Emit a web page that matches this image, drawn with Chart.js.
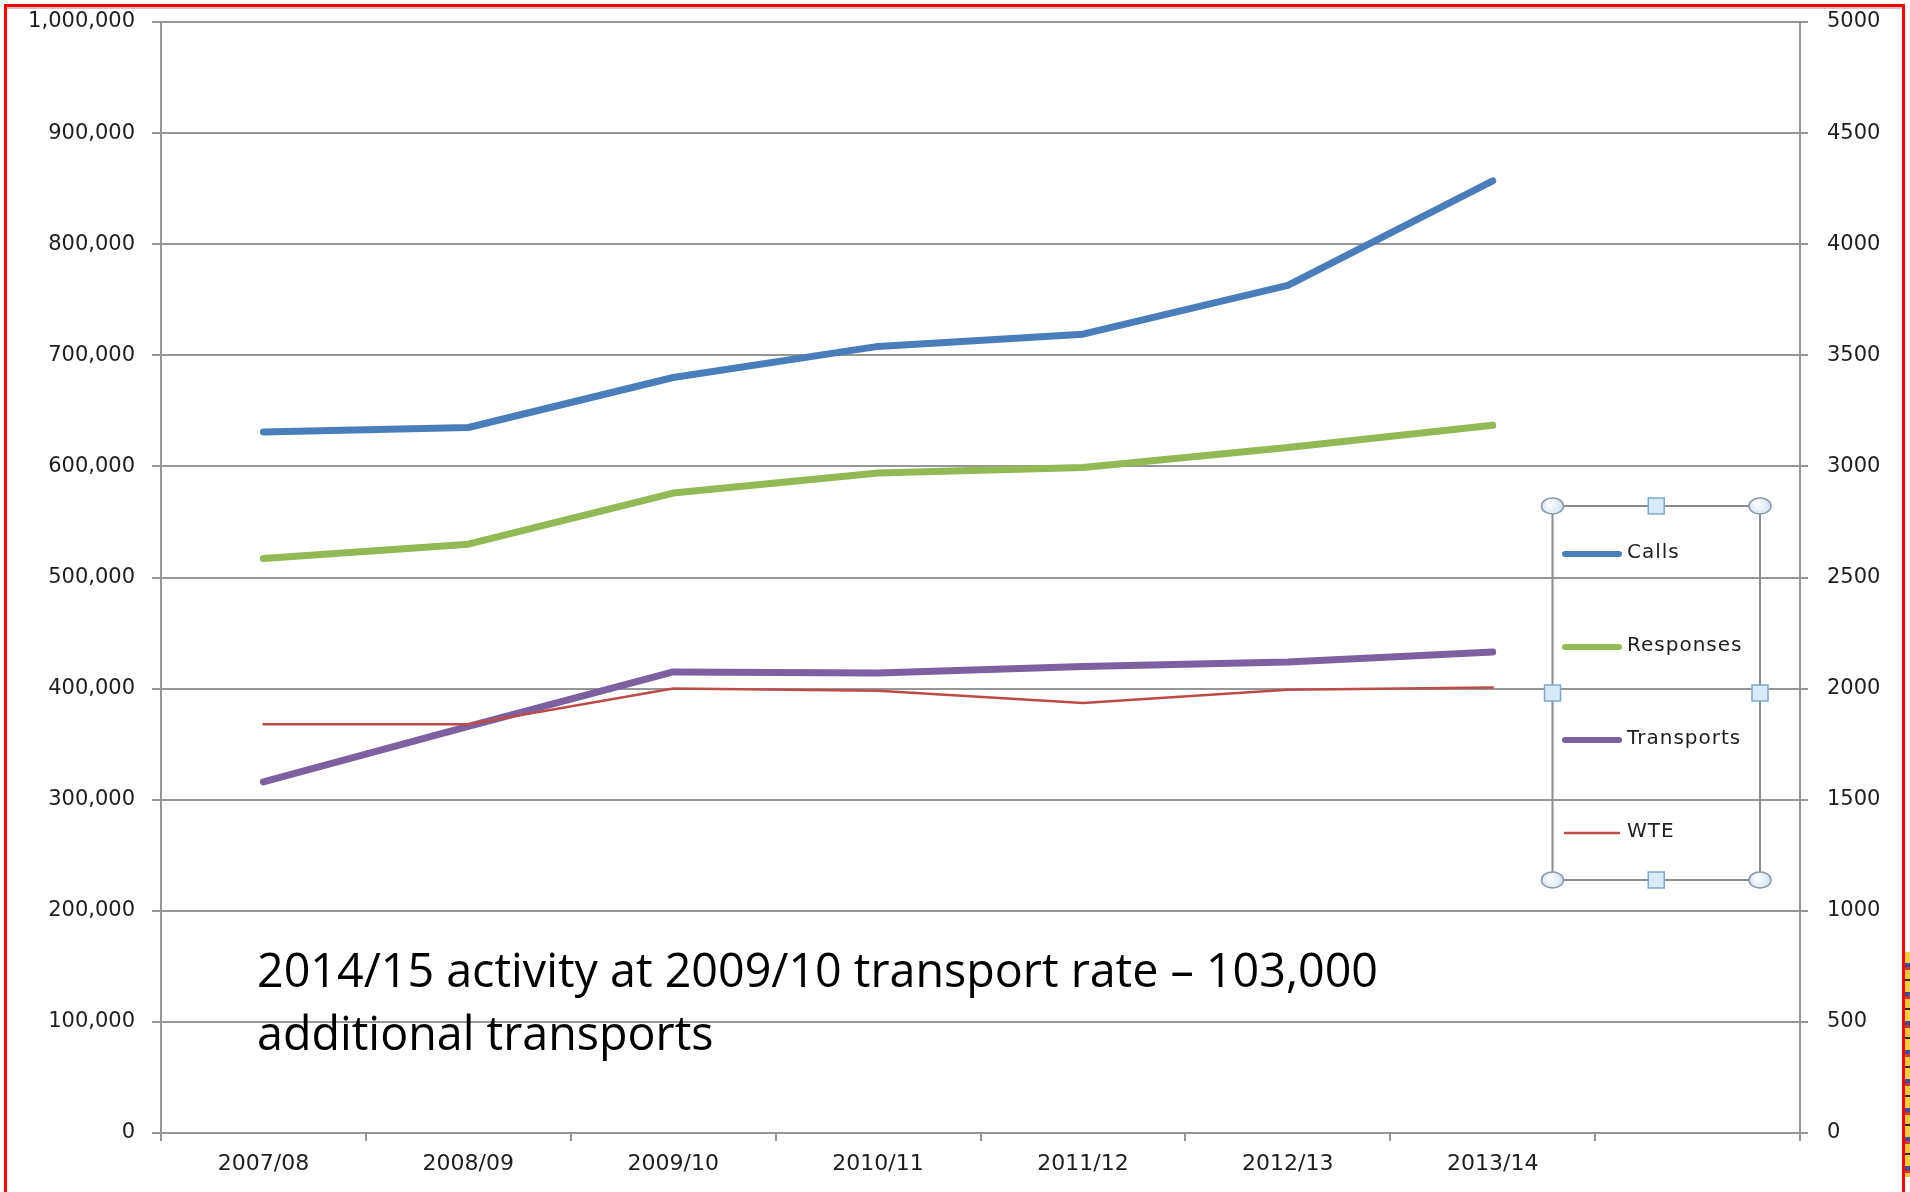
<!DOCTYPE html>
<html>
<head>
<meta charset="utf-8">
<script src="https://cdn.jsdelivr.net/npm/chart.js@4.4.1/dist/chart.umd.min.js"></script>
<style>
  html, body { margin:0; padding:0; background:#ffffff; overflow:hidden; width:1910px; height:1192px; }
  #wrap { position:absolute; left:0; top:0; width:1910px; height:1192px; }
  #topline { position:absolute; left:7px; top:7px; width:1895px; height:2px; background:#c6c6c6; }
  #frame { position:absolute; left:4px; top:4px; width:1901px; height:1300px; border:3px solid #ff0000; box-sizing:border-box; pointer-events:none; }
  #strip { position:absolute; left:1905px; top:952px; width:5px; height:225px;
    background:repeating-linear-gradient(180deg,#f0d23a 0px,#f0d23a 11px,#3b4f9e 11px,#3b4f9e 15px,#c43b2b 15px,#c43b2b 18px,#e9c93a 18px,#e9c93a 27px,#2d2d2d 27px,#2d2d2d 29px); }
</style>
</head>
<body>
<div id="wrap"><canvas id="c" width="1910" height="1192"></canvas></div>
<div id="topline"></div>
<div id="frame"></div>
<div id="strip"></div>
<script>
// ---- data ----
const categories = ['2007/08', '2008/09', '2009/10', '2010/11', '2011/12', '2012/13', '2013/14'];
const emptySlot = [''];
const calls      = [631000, 635000, 680000, 708000, 719000, 763000, 857000];
const responses  = [517000, 530000, 576000, 594000, 599000, 617000, 637000];
const transports = [316000, 366000, 415000, 414000, 420000, 424000, 433000];
const wte        = [1840, 1840, 2000, 1990, 1935, 1995, 2005];
const leftAxisMax = 1000000;
const leftAxisStep = 100000;
const rightAxisMax = 5000;
const rightAxisStep = 500;
const seriesNames = ['Calls', 'Responses', 'Transports', 'WTE'];
const annotationLines = ['2014/15 activity at 2009/10 transport rate \u2013 103,000', 'additional transports'];

// ---- styling ----
const GRID = '#969696';
const TXT = '#1e1e1e';
const colors = ['#4A7EBB', '#93B954', '#7D60A0', '#BE4B48'];

const frameLegendPlugin = {
  id: 'frameLegend',
  beforeDraw(chart) {
    chart.ctx.letterSpacing = '0px';
  },
  afterDraw(chart) {
    const ctx = chart.ctx;
    // annotation text
    ctx.save();
    ctx.fillStyle = '#000000';
    ctx.font = '47px "Open Sans"';
    ctx.textBaseline = 'alphabetic';
    const w1 = ctx.measureText(annotationLines[0]).width;
    const sx = 1121 / w1;
    const baselines = [987, 1050];
    annotationLines.forEach((line, i) => {
      ctx.save();
      ctx.translate(257, baselines[i]);
      ctx.scale(sx, 1);
      ctx.fillText(line, 0, 0);
      ctx.restore();
    });
    ctx.restore();

    // legend box (selection frame)
    const L = 1552.5, R = 1760, T = 506, B = 880;
    ctx.save();
    ctx.strokeStyle = '#8c8c8c';
    ctx.lineWidth = 2;
    ctx.strokeRect(L, T, R - L, B - T);
    // legend entries
    const ys = [554, 647, 740, 833];
    chart.data.datasets.forEach((ds, i) => {
      ctx.beginPath();
      ctx.strokeStyle = ds.borderColor;
      ctx.lineWidth = i < 3 ? 6 : 2.5;
      ctx.lineCap = 'round';
      ctx.moveTo(1565, ys[i]);
      ctx.lineTo(1619, ys[i]);
      ctx.stroke();
      ctx.fillStyle = TXT;
      ctx.font = '20px "DejaVu Sans"';
      ctx.letterSpacing = '1px';
      ctx.textBaseline = 'middle';
      ctx.textAlign = 'left';
      ctx.fillText(ds.label, 1627, ys[i] - 1);
      ctx.letterSpacing = '0px';
    });
    // handles
    const circ = [[L, T], [R, T], [L, B], [R, B]];
    circ.forEach(([x, y]) => {
      const g = ctx.createRadialGradient(x - 3, y - 3, 1, x, y, 12);
      g.addColorStop(0, '#ffffff');
      g.addColorStop(1, '#cddff0');
      ctx.beginPath();
      ctx.ellipse(x, y, 11, 8, 0, 0, Math.PI * 2);
      ctx.fillStyle = g;
      ctx.fill();
      ctx.strokeStyle = '#8a98a8';
      ctx.lineWidth = 1.5;
      ctx.stroke();
    });
    const sq = [[(L + R) / 2, T], [(L + R) / 2, B], [L, (T + B) / 2], [R, (T + B) / 2]];
    sq.forEach(([x, y]) => {
      ctx.fillStyle = '#d8e9f8';
      ctx.fillRect(x - 8, y - 8, 16, 16);
      ctx.strokeStyle = '#7fa6cc';
      ctx.lineWidth = 1.5;
      ctx.strokeRect(x - 8, y - 8, 16, 16);
    });
    ctx.restore();
  }
};

const mk = (label, data, color, width, axis, order) => ({
  label, data, borderColor: color, backgroundColor: color,
  borderWidth: width, pointRadius: 0, pointHoverRadius: 0, tension: 0,
  borderCapStyle: 'round', borderJoinStyle: 'round', fill: false,
  yAxisID: axis, order
});

const fitY = (w) => (s) => { s.width = w; s.paddingTop = 0; s.paddingBottom = 0; };

new Chart(document.getElementById('c'), {
  type: 'line',
  data: {
    labels: [...categories, ...emptySlot],
    datasets: [
      mk(seriesNames[0], calls, colors[0], 7, 'y', 4),
      mk(seriesNames[1], responses, colors[1], 7, 'y', 3),
      mk(seriesNames[2], transports, colors[2], 7, 'y', 2),
      mk(seriesNames[3], wte, colors[3], 2.5, 'y1', 1)
    ]
  },
  options: {
    responsive: false,
    animation: false,
    devicePixelRatio: 1,
    layout: { padding: { top: 22, left: 0, right: 0, bottom: 0 } },
    plugins: { legend: { display: false }, tooltip: { enabled: false }, title: { display: false } },
    scales: {
      x: {
        type: 'category',
        offset: true,
        grid: { offset: true, drawOnChartArea: false, drawTicks: true, tickLength: 8, color: GRID, lineWidth: 2 },
        border: { display: true, color: GRID, width: 2 },
        ticks: { color: TXT, font: { family: 'DejaVu Sans', size: 22 }, padding: 10, maxRotation: 0, autoSkip: false },
        afterFit(s) { s.height = 59; s.paddingLeft = 0; s.paddingRight = 0; }
      },
      y: {
        position: 'left',
        min: 0, max: leftAxisMax,
        grid: { drawOnChartArea: true, drawTicks: true, tickLength: 9, color: GRID, lineWidth: 2 },
        border: { display: true, color: GRID, width: 2 },
        ticks: { stepSize: leftAxisStep, color: TXT, font: { family: 'DejaVu Sans', size: 21 }, padding: 17,
          callback: v => Number(v).toLocaleString('en-US') },
        afterFit: fitY(161)
      },
      y1: {
        position: 'right',
        min: 0, max: rightAxisMax,
        grid: { drawOnChartArea: false, drawTicks: true, tickLength: 8, color: GRID, lineWidth: 2 },
        border: { display: true, color: GRID, width: 2 },
        ticks: { stepSize: rightAxisStep, color: TXT, font: { family: 'DejaVu Sans', size: 21 }, padding: 19,
          callback: v => String(v) },
        afterFit: fitY(110)
      }
    }
  },
  plugins: [frameLegendPlugin]
});
</script>
</body>
</html>
